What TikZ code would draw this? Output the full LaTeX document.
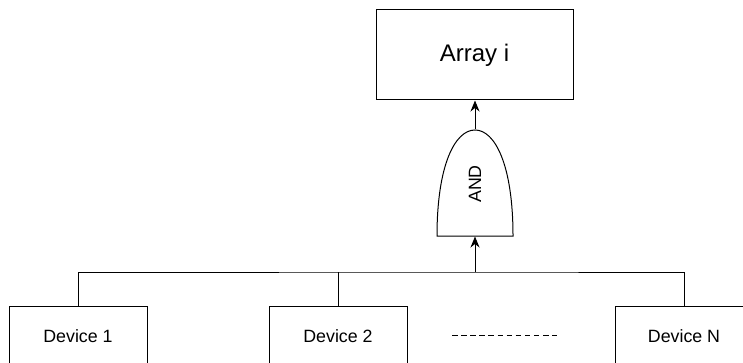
\documentclass[tikz,border=0pt]{standalone}
\usepackage{fontspec}
\setmainfont{Liberation Sans}
\usetikzlibrary{arrows.meta}
\begin{document}
\begin{tikzpicture}[x=1pt,y=-1pt,
  line width=1pt,
  box/.style={draw, rectangle, inner sep=0pt, fill=white},
  link/.style={-{Stealth[length=11pt,width=9pt,inset=3.5pt]}},
  lbl/.style={font=\fontsize{17.8}{17.8}\selectfont}]
\useasboundingbox (0,0) rectangle (743,363);
\clip (0,0) rectangle (743,363);

% top event
\node[box, minimum width=197pt, minimum height=90pt, font=\fontsize{24}{24}\selectfont] (array) at (474.5,55) {Array i};

% AND gate outline
\node[inner sep=0pt, minimum width=76pt, minimum height=106pt] (gate) at (475,183) {};
\draw (437,236) .. controls (437,165) and (455,130) .. (475,130)
      .. controls (495,130) and (513,165) .. (513,236) -- cycle;
\node[lbl, rotate=90] (andlbl) at (475,184) {AND};

% basic events
\node[box, minimum width=138pt, minimum height=60pt, lbl] (dev1) at (78,336) {Device 1};
\node[box, minimum width=138pt, minimum height=60pt, lbl] (dev2) at (338,336) {Device 2};
\node[box, minimum width=138pt, minimum height=60pt, lbl] (devN) at (684,336) {Device N};

% ellipsis between Device 2 and Device N
\coordinate (dotsL) at (452,335);
\coordinate (dotsR) at (557,335);
\draw[dash pattern=on 5.5pt off 3.6pt, line width=0.9pt] (dotsL) -- (dotsR);

% connectors
\coordinate (bus) at (475,272);
\draw (dev1.north) |- (bus) -| (devN.north);
\draw (dev2.north) -- (dev2.north |- bus);
\draw[link] (bus) -- (gate.south);
\draw[link] (gate.north) -- (array.south -| gate.north);
\end{tikzpicture}
\end{document}
